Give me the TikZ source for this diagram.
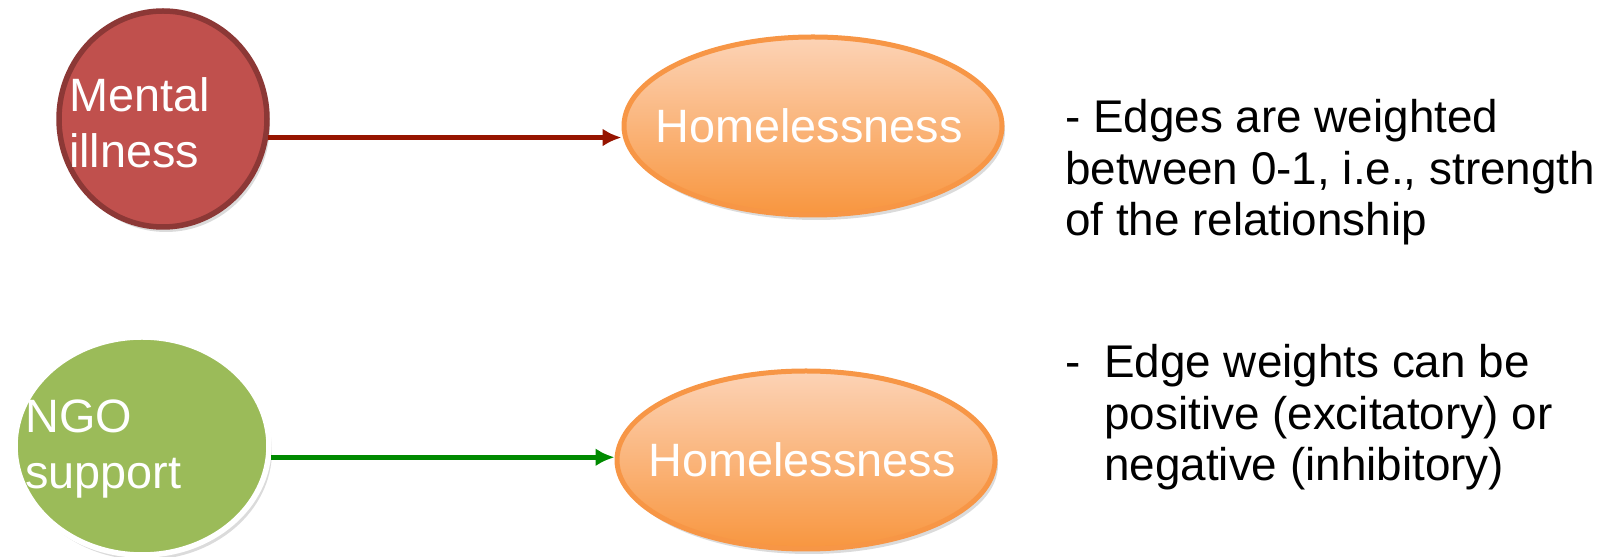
\documentclass[tikz,border=0pt]{standalone}
\usepackage{fontspec}
\setmainfont{Liberation Sans}
\usetikzlibrary{shapes.geometric,arrows.meta,shadows}

\definecolor{mentalfill}{HTML}{C0504D}
\definecolor{mentalline}{HTML}{8C3836}
\definecolor{ngofill}{HTML}{9BBB59}
\definecolor{hometop}{HTML}{FCD3B6}
\definecolor{homebot}{HTML}{F8963F}
\definecolor{homeline}{HTML}{F79646}
\definecolor{redarrow}{RGB}{150,20,0}
\definecolor{greenarrow}{RGB}{0,138,0}

\begin{document}
\begin{tikzpicture}[x=1bp,y=1bp,line join=bevel,
  softshadow/.style={drop shadow={shadow xshift=3bp,shadow yshift=-5bp,opacity=.2,fill=black!70}},
  causenode/.style={ellipse,line width=5.5bp,inner sep=0pt,softshadow},
  effectnode/.style={ellipse,draw=homeline,line width=5bp,top color=hometop,bottom color=homebot,inner sep=0pt,
    minimum width=378bp,minimum height=178bp,text=white,font=\fontsize{47}{56}\selectfont,softshadow},
  nodetext/.style={anchor=west,align=left,text=white,inner sep=0pt,font=\fontsize{47}{56}\selectfont},
  edge/.style={-{Latex[length=19bp,width=18bp]},line width=5.5bp},
  notetext/.style={anchor=base west,align=left,inner sep=0pt,font=\fontsize{46}{52}\selectfont}]
  \useasboundingbox (0,0) rectangle (1598,557);
%%
  % Node: mental
  \node[causenode,draw=mentalline,fill=mentalfill,minimum width=208bp,minimum height=216bp] (mental) at (163,438) {};
  \node[nodetext] (mentaltext) at (69,434.5) {Mental\\illness};
  % Node: homeless1
  \node[effectnode] (homeless1) at (813,431) {\makebox[0pt]{\hspace*{-8bp}Homelessness}};
  % Node: ngo
  \node[causenode,draw=white,fill=ngofill,minimum width=254bp,minimum height=218bp] (ngo) at (142,111) {};
  \node[nodetext] (ngotext) at (25,108) {NGO\\support};
  % Node: homeless2
  \node[effectnode] (homeless2) at (806,97) {\makebox[0pt]{\hspace*{-8bp}Homelessness}};
  % Edge: mental -> homeless1
  \draw[edge,draw=redarrow] (mental.-10.3) -- (mental.-10.3 -| homeless1.west);
  % Edge: ngo -> homeless2
  \draw[edge,draw=greenarrow] (ngo.-5.5) -- (ngo.-5.5 -| homeless2.west);
  % Notes
  \node[notetext] (note1) at (1065,321) {- Edges are weighted\\between 0-1, i.e., strength\\of the relationship};
  \node[notetext] (note2) at (1065,76) {\makebox[39bp][l]{-}Edge weights can be\\\hspace*{39bp}positive (excitatory) or\\\hspace*{39bp}negative (inhibitory)};
%
\end{tikzpicture}
\end{document}
